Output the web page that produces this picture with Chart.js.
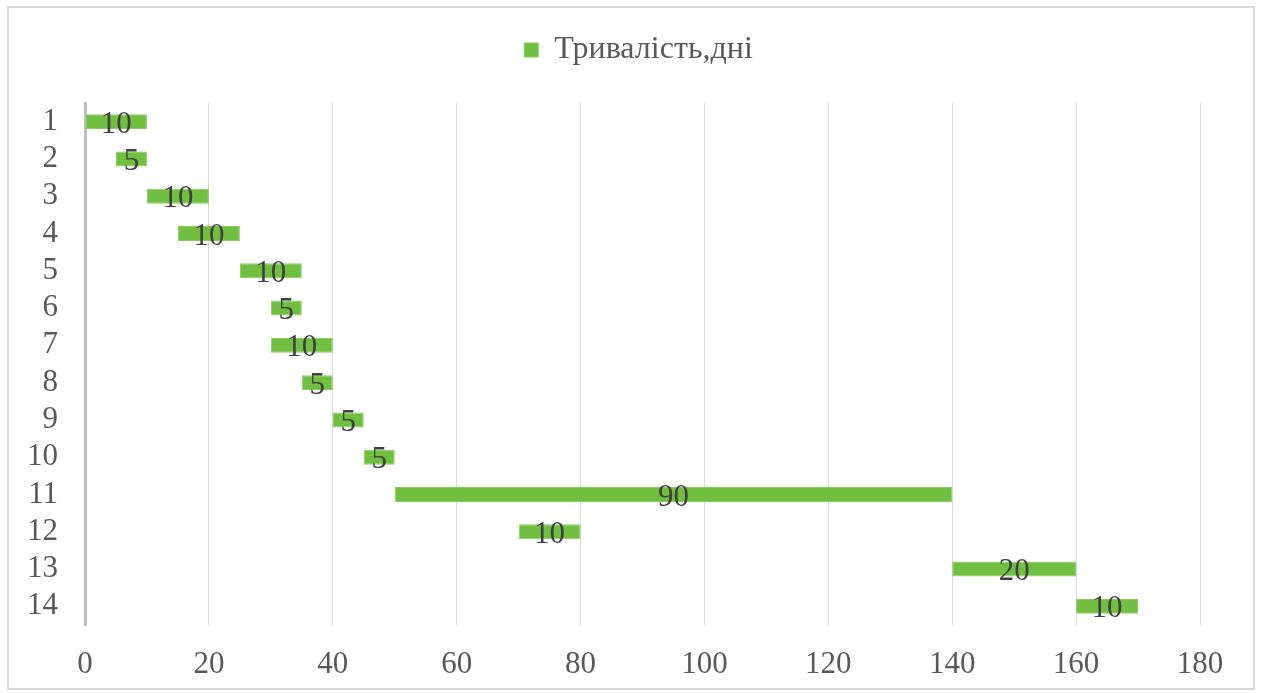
<!DOCTYPE html>
<html>
<head>
<meta charset="utf-8">
<script src="https://cdn.jsdelivr.net/npm/chart.js@4.4.0/dist/chart.umd.min.js"></script>
<style>
    html, body { margin: 0; padding: 0; background: #ffffff; }
    #wrap { position: relative; width: 1261px; height: 693px; }
</style>
</head>
<body>
<div id="wrap"><canvas id="ganttChart" width="1261" height="693"></canvas></div>
<script>
// Дані діаграми
const tasks = ['1', '2', '3', '4', '5', '6', '7', '8', '9', '10', '11', '12', '13', '14'];
const startDays = [0, 5, 10, 15, 25, 30, 30, 35, 40, 45, 50, 70, 140, 160];
const durations = [10, 5, 10, 10, 10, 5, 10, 5, 5, 5, 90, 10, 20, 10];
const xTicks = [0, 20, 40, 60, 80, 100, 120, 140, 160, 180];
const seriesName = 'Тривалість,дні';

const colors = {
    bar: '#70bf41',
    grid: '#d9d9d9',
    axis: '#bfbfbf',
    tick: '#595959',
    label: '#404040'
};
const serif = "'Liberation Serif', 'Times New Roman', serif";

// Рамка навколо діаграми
const framePlugin = {
    id: 'frame',
    beforeDraw(chart) {
        const ctx = chart.ctx;
        ctx.save();
        ctx.strokeStyle = colors.grid;
        ctx.lineWidth = 2;
        ctx.strokeRect(8, 7, 1246, 682);
        ctx.restore();
    }
};

// Підписи тривалості по центру смуг
const barLabelsPlugin = {
    id: 'barLabels',
    afterDatasetsDraw(chart) {
        const ctx = chart.ctx;
        const meta = chart.getDatasetMeta(0);
        ctx.save();
        ctx.font = '31px ' + serif;
        ctx.fillStyle = colors.label;
        ctx.textAlign = 'center';
        ctx.textBaseline = 'middle';
        meta.data.forEach((bar, i) => {
            const cx = (bar.x + bar.base) / 2;
            ctx.fillText(String(durations[i]), cx, bar.y + 3);
        });
        ctx.restore();
    }
};

// Висота та положення легенди
const legendPlugin = {
    id: 'legendHeight',
    beforeInit(chart) {
        const origFit = chart.legend.fit;
        chart.legend.fit = function () {
            origFit.bind(chart.legend)();
            this.height = 103;
        };
    },
    afterLayout(chart) {
        chart.legend.left = 16;
        chart.legend.right = 1261;
        chart.legend.width = 1245;
    }
};

const ctx = document.getElementById('ganttChart').getContext('2d');

new Chart(ctx, {
    type: 'bar',
    data: {
        labels: tasks,
        datasets: [{
            label: seriesName,
            data: startDays.map((s, i) => [s, s + durations[i]]),
            backgroundColor: colors.bar,
            borderColor: '#86cc5e',
            borderWidth: 1,
            borderSkipped: false,
            barPercentage: 0.4,
            categoryPercentage: 1.0
        }]
    },
    options: {
        indexAxis: 'y', // горизонтальні смуги
        responsive: false,
        animation: false,
        layout: {
            padding: { left: 0, right: 61, top: 0, bottom: 0 }
        },
        plugins: {
            legend: {
                display: true,
                position: 'top',
                labels: {
                    boxWidth: 14,
                    boxHeight: 14,
                    padding: 34,
                    color: colors.tick,
                    font: { family: serif, size: 32 }
                }
            },
            tooltip: { enabled: false }
        },
        scales: {
            x: {
                type: 'linear',
                min: 0,
                max: 180,
                afterBuildTicks(scale) {
                    scale.ticks = xTicks.map(v => ({ value: v }));
                },
                afterFit(scale) {
                    scale.height = 68;
                },
                grid: {
                    color: colors.grid,
                    lineWidth: 1,
                    drawTicks: false
                },
                border: { display: false },
                ticks: {
                    padding: 21,
                    color: colors.tick,
                    font: { family: serif, size: 31 }
                }
            },
            y: {
                afterFit(scale) {
                    scale.width = 85;
                },
                grid: { display: false, drawTicks: false },
                border: { display: true, color: colors.axis, width: 3 },
                ticks: {
                    autoSkip: false,
                    padding: 27,
                    color: colors.tick,
                    font: { family: serif, size: 31 }
                }
            }
        }
    },
    plugins: [framePlugin, barLabelsPlugin, legendPlugin]
});
</script>
</body>
</html>
